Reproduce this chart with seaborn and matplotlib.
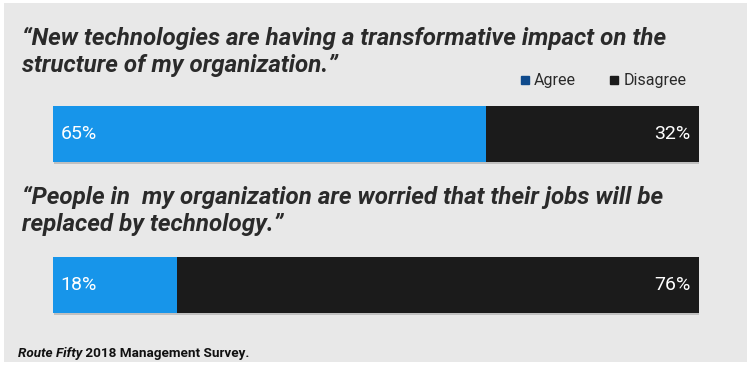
import numpy as np
import pandas as pd
import matplotlib
matplotlib.use('Agg')  # no display, just write the png
import matplotlib.pyplot as plt
import matplotlib.patheffects as pe
from matplotlib.lines import Line2D
from matplotlib.patches import Rectangle
import seaborn as sns

# survey numbers (percent)
questions = ['Q1', 'Q2']
title_lines = [
    ['\u201cNew technologies are having a transformative impact on the',
     'structure of my organization.\u201d'],
    ['\u201cPeople in  my organization are worried that their jobs will be',
     'replaced by technology.\u201d'],
]
agree = [65, 18]
disagree = [32, 76]

# colours
BLUE = '#1795ea'
BLACK = '#1b1b1b'
LEGEND_BLUE = '#0f4a8c'
BG = '#e8e8e8'
TEXT = '#2a2a2a'

W, H = 754, 368

sns.set_theme(style='white')
plt.rcParams['font.family'] = ['Roboto', 'DejaVu Sans']

# each bar fills the full width, so work with shares of agree+disagree
df = pd.DataFrame({'question': questions, 'agree': agree, 'disagree': disagree})
df['total'] = df['agree'] + df['disagree']
df['agree_share'] = df['agree'] / df['total']
df['full'] = df['total'] / df['total']

fig = plt.figure(figsize=(W / 100, H / 100), dpi=100, facecolor='white')

# gray card behind everything
fig.patches.append(Rectangle((4 / W, 1 - 362 / H), 743 / W, 359 / H,
                             transform=fig.transFigure, facecolor=BG,
                             edgecolor='none', zorder=-5))

def fx(px):
    return px / W

def fy(py):
    return 1 - py / H

# axes: bar centres at y=134 and y=285 px, 151px per category
ax = fig.add_axes([fx(53), fy(360.5), fx(646), 302 / H])
ax.set_facecolor('none')

shadow = [pe.SimplePatchShadow(offset=(1, -1.5), shadow_rgbFace='#9a9a9a', alpha=0.5), pe.Normal()]

sns.barplot(data=df, x='full', y='question', color=BLACK, orient='h',
            width=0.371, saturation=1, linewidth=0, ax=ax)
sns.barplot(data=df, x='agree_share', y='question', color=BLUE, orient='h',
            width=0.371, saturation=1, linewidth=0, ax=ax)
for i, bar in enumerate(ax.patches):
    if i < len(questions):
        bar.set_path_effects(shadow)

ax.set_xlim(0, 1)
ax.set_ylim(1.5, -0.5)
ax.axis('off')

# percent labels inside the bars
for i, row in df.iterrows():
    ax.annotate(f"{row['agree']}%", xy=(0, i), xytext=(5.5, 0), textcoords='offset points',
                ha='left', va='center', color='white', fontsize=14)
    ax.annotate(f"{row['disagree']}%", xy=(1, i), xytext=(-6, 0), textcoords='offset points',
                ha='right', va='center', color='white', fontsize=14)

# question titles, one line at a time so the baselines land where they should
title_baselines = [(45, 72), (204, 231)]
for lines, ys in zip(title_lines, title_baselines):
    for line, y in zip(lines, ys):
        fig.text(fx(22), fy(y), line, ha='left', va='baseline', fontsize=17.4,
                 fontweight='bold', fontstyle='italic', color=TEXT)

# legend (the agree square is a darker blue than the bars)
handles = [
    Line2D([], [], marker='s', linestyle='none', markersize=6, color=LEGEND_BLUE, label='Agree'),
    Line2D([], [], marker='s', linestyle='none', markersize=6, color=BLACK, label='Disagree'),
]
fig.legend(handles=handles, loc='center left', bbox_to_anchor=(fx(503), fy(81)),
           ncol=2, frameon=False, fontsize=11.5, handletextpad=0.1,
           columnspacing=2.0, handlelength=0.9, labelcolor=TEXT)

# footer / source
src = fig.text(fx(18), fy(357), 'Route Fifty', ha='left', va='baseline', fontsize=9.7,
               fontweight='bold', fontstyle='italic', color='#111111')
ax.annotate(' 2018 Management Survey.', xy=(1, 0), xycoords=src, ha='left', va='bottom',
            fontsize=9.7, fontweight='bold', color='#111111', annotation_clip=False)

fig.savefig('out.png', dpi=100, facecolor='white')
